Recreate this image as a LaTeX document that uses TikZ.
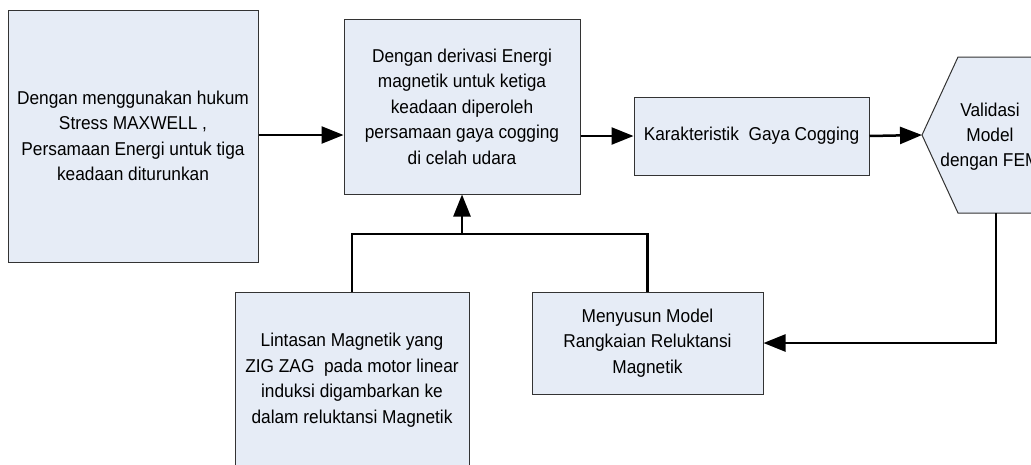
\documentclass[tikz,border=0pt]{standalone}
\usepackage{fontspec}
\setmainfont[FakeStretch=0.93]{Liberation Sans}
\usepackage{tikz}
\usetikzlibrary{arrows.meta}

\definecolor{boxFill}{rgb}{0.902,0.925,0.965}
\definecolor{boxLine}{rgb}{0.20,0.20,0.20}

\begin{document}
\begin{tikzpicture}[x=1pt,y=-1pt,
  procbox/.style={draw=boxLine,fill=boxFill,line width=1pt,align=center,inner sep=0pt,
    font=\fontsize{18.6}{25.5}\selectfont},
  flowline/.style={draw=black,line width=2.5pt},
  flowarrow/.style={flowline,-{Triangle[length=22pt,width=17pt]}}]
\useasboundingbox (0,0) rectangle (1031,464);
\clip (0,0) rectangle (1031,464);

% blocks
\node[procbox,minimum width=250pt,minimum height=252pt] (hukum) at (133,136)
  {Dengan menggunakan hukum\\Stress MAXWELL ,\\Persamaan Energi untuk tiga\\keadaan diturunkan};

\node[procbox,minimum width=236pt,minimum height=175pt] (derivasi) at (462,106.5)
  {Dengan derivasi Energi\\magnetik untuk ketiga\\keadaan diperoleh\\persamaan gaya cogging\\di celah udara};

\node[procbox,minimum width=235pt,minimum height=78pt] (karakter) at (751.5,136)
  {Karakteristik\ \ Gaya Cogging};

\node[procbox,minimum width=234pt,minimum height=176pt] (lintasan) at (352,380)
  {Lintasan Magnetik yang\\ZIG ZAG\ \ pada motor linear\\induksi digambarkan ke\\dalam reluktansi Magnetik};

\node[procbox,minimum width=231pt,minimum height=102pt] (menyusun) at (647.5,343)
  {Menyusun Model\\Rangkaian Reluktansi\\Magnetik};

% validation hexagon
\coordinate (validL) at (922,135);
\coordinate (validB) at (996,213);
\draw[draw=boxLine,fill=boxFill,line width=1pt] (validL) -- (958,57) -- (1034,57) -- (1070,135)
  -- (1034,213) -- (958,213) -- cycle;
\node[align=center,inner sep=0pt,font=\fontsize{18.6}{25}\selectfont] (validasi) at (990,137)
  {Validasi\\Model\\dengan FEM};

% connectors
\coordinate (join) at (462,234);
\draw[flowarrow] (hukum.east |- 0,135) -- (derivasi.west |- 0,135);
\draw[flowarrow] (derivasi.east |- karakter.west) -- (karakter.west);
\draw[flowarrow] (karakter.east) -- (validL);
\draw[flowarrow] (validB) |- (menyusun.east);
\draw[flowline] (lintasan.north) |- (join) -| (menyusun.north);
\draw[flowarrow] (join) -- (derivasi.south);
\end{tikzpicture}
\end{document}
